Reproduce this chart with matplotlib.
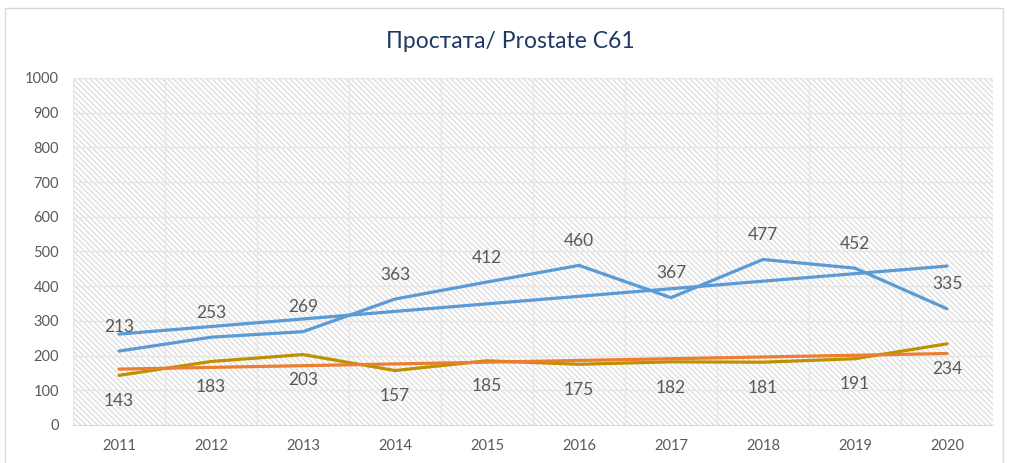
import matplotlib
matplotlib.use("Agg")
import matplotlib.pyplot as plt
from matplotlib.patches import Rectangle
import numpy as np

years = ["2011", "2012", "2013", "2014", "2015", "2016", "2017", "2018", "2019", "2020"]
series_blue = [213, 253, 269, 363, 412, 460, 367, 477, 452, 335]
series_gold = [143, 183, 203, 157, 185, 175, 182, 181, 191, 234]
# linear trend lines (start/end values)
trend_blue_ends = [262, 458]
trend_gold_ends = [161, 206]
yticks = [0, 100, 200, 300, 400, 500, 600, 700, 800, 900, 1000]
title = "Простата/ Prostate C61"

plt.rcParams['font.family'] = ['Lato', 'DejaVu Sans']
plt.rcParams['hatch.linewidth'] = 1.0
plt.rcParams['hatch.color'] = "#dedede"

W, H = 1013, 463
fig = plt.figure(figsize=(W / 100, H / 100), dpi=100)
fig.patch.set_facecolor("white")

# outer chart border
fig.patches.append(Rectangle((5 / W, -0.05), 998 / W, 1.05 - 8 / H, transform=fig.transFigure,
                             fill=False, edgecolor="#d9d9d9", linewidth=1.0))

left, right, top, bottom = 73, 993, 78, 425
ax = fig.add_axes([left / W, 1 - bottom / H, (right - left) / W, (bottom - top) / H])

x = np.arange(len(years))
ax.set_xlim(-0.5, len(years) - 0.5)
ax.set_ylim(0, 1000)

# hatched background
ax.add_patch(Rectangle((0, 0), 1, 1, transform=ax.transAxes, facecolor="white",
                       edgecolor="#dedede", hatch="\\" * 6, linewidth=0, zorder=0))

for yv in yticks[1:]:
    ax.axhline(yv, color="#e6e6e6", linewidth=1.0, zorder=1)
for xv in np.arange(-0.5, len(years) + 0.5, 1.0):
    ax.axvline(xv, color="#e6e6e6", linewidth=1.0, zorder=1)

blue = "#5B9BD5"
gold = "#BF9000"
orange = "#ED7D31"
lw = 2.3

ax.plot(x, series_blue, color=blue, lw=lw, zorder=3, solid_capstyle="round")
ax.plot([x[0], x[-1]], trend_blue_ends, color=blue, lw=lw, zorder=3, solid_capstyle="round")
ax.plot(x, series_gold, color=gold, lw=lw, zorder=3, solid_capstyle="round")
ax.plot([x[0], x[-1]], trend_gold_ends, color=orange, lw=lw, zorder=4, solid_capstyle="round")

for xi, v in zip(x, series_blue):
    ax.annotate(str(v), (xi, v), xytext=(0, 17.5), textcoords="offset points",
                ha="center", va="center", fontsize=12.5, color="#595959", zorder=5)
for xi, v in zip(x, series_gold):
    ax.annotate(str(v), (xi, v), xytext=(0, -18.5), textcoords="offset points",
                ha="center", va="center", fontsize=12.5, color="#595959", zorder=5)

ax.set_xticks(x)
ax.set_xticklabels(years)
ax.set_yticks(yticks)
ax.tick_params(axis="both", length=0, labelsize=10.5, colors="#595959")
ax.tick_params(axis="x", pad=10)
ax.tick_params(axis="y", pad=10)
for s in ["top", "right", "left"]:
    ax.spines[s].set_visible(False)
ax.spines["bottom"].set_color("#d9d9d9")
ax.spines["bottom"].set_zorder(2)

fig.text(510 / W, 1 - 42 / H, title, ha="center", va="center",
         fontsize=16.5, color="#1F3864")

fig.savefig("out.png", dpi=100)
